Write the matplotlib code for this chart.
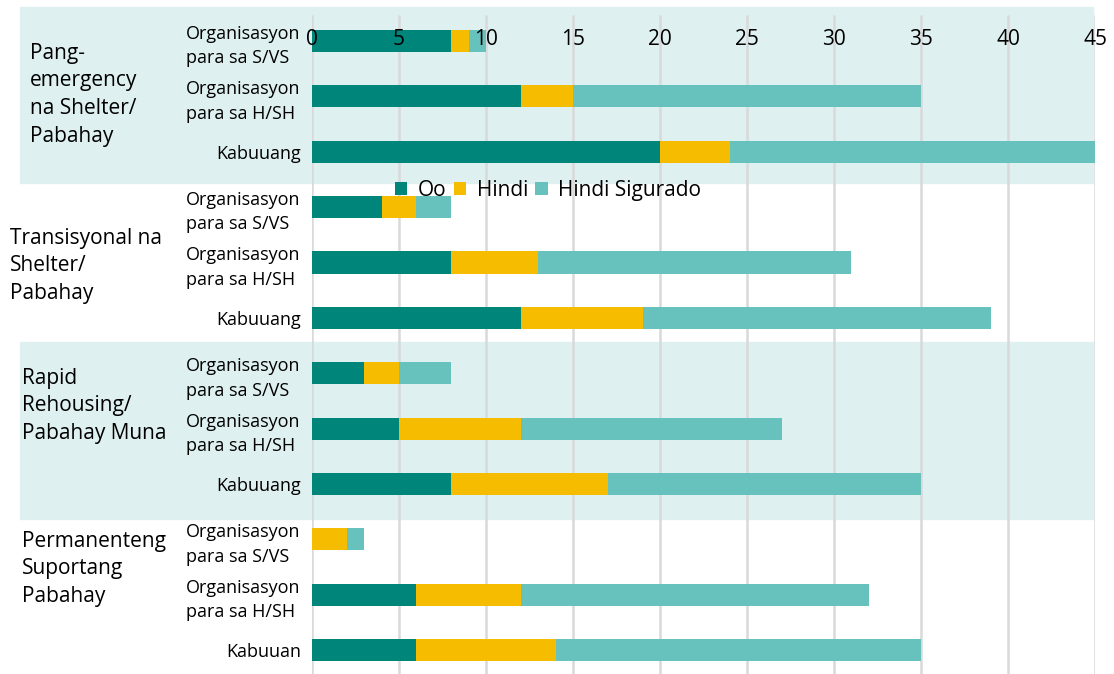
import matplotlib.pyplot as plt
import matplotlib.transforms as mtransforms
import numpy as np

plt.rcParams['font.family'] = ['Open Sans', 'DejaVu Sans']

# bar labels (top to bottom) and their groups
bar_labels = [
    "Organisasyon\npara sa S/VS", "Organisasyon\npara sa H/SH", "Kabuuang",
    "Organisasyon\npara sa S/VS", "Organisasyon\npara sa H/SH", "Kabuuang",
    "Organisasyon\npara sa S/VS", "Organisasyon\npara sa H/SH", "Kabuuang",
    "Organisasyon\npara sa S/VS", "Organisasyon\npara sa H/SH", "Kabuuan",
]
group_labels = [
    "Pang-\nemergency\nna Shelter/\nPabahay",
    "Transisyonal na\nShelter/\nPabahay",
    "Rapid\nRehousing/\nPabahay Muna",
    "Permanenteng\nSuportang\nPabahay",
]
series_names = ["Oo", "Hindi", "Hindi Sigurado"]
oo = [8, 12, 20, 4, 8, 12, 3, 5, 8, 0, 6, 6]
hindi = [1, 3, 4, 2, 5, 7, 2, 7, 9, 2, 6, 8]
hindi_sigurado = [1, 20, 21, 2, 18, 20, 3, 15, 18, 1, 20, 21]

colors = ["#00857A", "#F5BC00", "#67C1BC"]
band_color = "#DFF0F0"

fig = plt.figure(figsize=(11.14, 6.74), dpi=100)
ax = fig.add_axes([0.280, 0.0, 0.703, 0.978])
ax.set_facecolor("none")

y = np.arange(len(bar_labels))
left = np.zeros(len(y))
for vals, name, c in zip([oo, hindi, hindi_sigurado], series_names, colors):
    ax.barh(y, vals, left=left, height=0.4, color=c, label=name, zorder=2)
    left = left + np.array(vals)

# shaded bands behind groups 1 and 3
for y0, y1 in [(-0.62, 2.56), (5.43, 8.63)]:
    ax.axhspan(y0, y1, xmin=-0.373, xmax=0.997, color=band_color,
               zorder=0, clip_on=False)

ax.set_xlim(0, 45)
ax.set_ylim(11.43, -0.47)
xticks = np.arange(0, 46, 5)
ax.set_xticks(xticks)
ax.vlines(xticks, 11.43, -0.47, color="#D9D9D9", linewidth=1.8, zorder=1)
ax.xaxis.tick_top()
ax.set_axisbelow(False)  # tick labels drawn over the bars
ax.tick_params(axis='x', length=0, pad=-25, labelsize=15, labelcolor="#000000")
for s in ax.spines.values():
    s.set_visible(False)

ax.set_yticks(y)
ax.set_yticklabels(bar_labels, fontsize=13, ha='right', multialignment='left')
for t in ax.get_yticklabels():
    t.set_linespacing(1.45)
ax.tick_params(axis='y', length=0, pad=8)

# group labels
trans = mtransforms.blended_transform_factory(fig.transFigure, ax.transData)
group_x = [30, 10, 22, 22]
group_y = [0.97, 4.06, 6.59, 9.53]
for gx, gy, lab in zip(group_x, group_y, group_labels):
    ax.text(gx / 1114, gy, lab, transform=trans, ha='left', va='center',
            fontsize=15, linespacing=1.42)

fig.legend(loc='center', bbox_to_anchor=(0.492, 0.718), ncol=3, frameon=False,
           fontsize=15, handlelength=0.6, handleheight=0.6, handletextpad=0.5,
           columnspacing=0.35, borderaxespad=0)

fig.savefig("out.png", dpi=100)
